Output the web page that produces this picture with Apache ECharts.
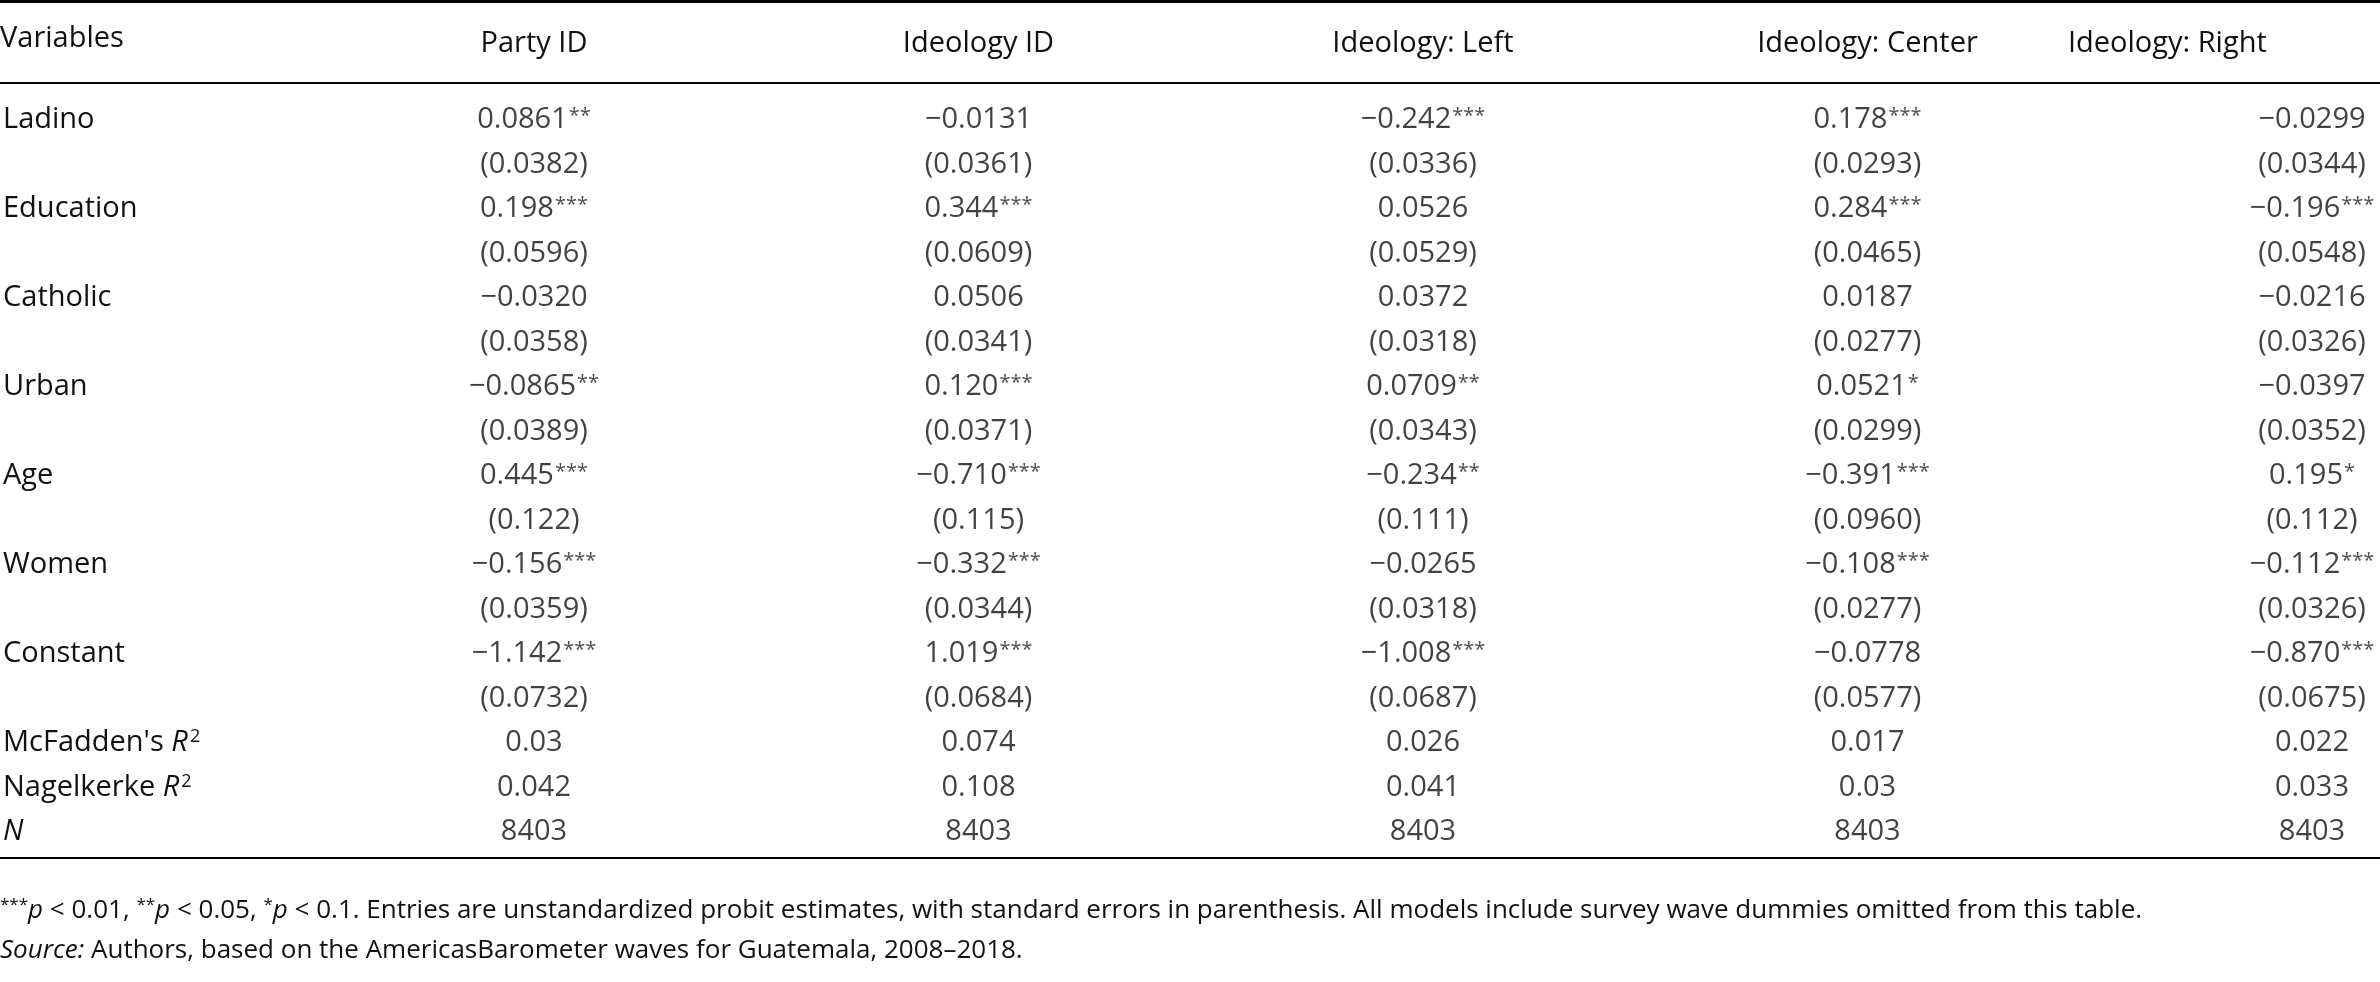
<!DOCTYPE html>
<html><head><meta charset="utf-8">
<script src="https://cdn.jsdelivr.net/npm/echarts@6/dist/echarts.min.js"></script>
<style>html,body{margin:0;padding:0;background:#fff}#c{width:2380px;height:982px}</style>
</head><body><div id="c"></div>
<script>
const columns = ['Party ID','Ideology ID','Ideology: Left','Ideology: Center','Ideology: Right'];
const rowLabels = ['Ladino','','Education','','Catholic','','Urban','','Age','','Women','','Constant','',"McFadden's {i|R}{sup|2}",'Nagelkerke {i|R}{sup|2}','{i|N}'];
const partyID = ['0.0861**','(0.0382)','0.198***','(0.0596)','−0.0320','(0.0358)','−0.0865**','(0.0389)','0.445***','(0.122)','−0.156***','(0.0359)','−1.142***','(0.0732)','0.03','0.042','8403'];
const ideologyID = ['−0.0131','(0.0361)','0.344***','(0.0609)','0.0506','(0.0341)','0.120***','(0.0371)','−0.710***','(0.115)','−0.332***','(0.0344)','1.019***','(0.0684)','0.074','0.108','8403'];
const ideologyLeft = ['−0.242***','(0.0336)','0.0526','(0.0529)','0.0372','(0.0318)','0.0709**','(0.0343)','−0.234**','(0.111)','−0.0265','(0.0318)','−1.008***','(0.0687)','0.026','0.041','8403'];
const ideologyCenter = ['0.178***','(0.0293)','0.284***','(0.0465)','0.0187','(0.0277)','0.0521*','(0.0299)','−0.391***','(0.0960)','−0.108***','(0.0277)','−0.0778','(0.0577)','0.017','0.03','8403'];
const ideologyRight = ['−0.0299','(0.0344)','−0.196***','(0.0548)','−0.0216','(0.0326)','−0.0397','(0.0352)','0.195*','(0.112)','−0.112***','(0.0326)','−0.870***','(0.0675)','0.022','0.033','8403'];
const allCols = [partyID, ideologyID, ideologyLeft, ideologyCenter, ideologyRight];
const FONT = 'Open Sans';
const C = '#111';
const FS = 29;
const data = [];
allCols.forEach((col, ci) => col.forEach((t, ri) => data.push([ci, ri, t])));
const chart = echarts.init(document.getElementById('c'));
chart.setOption({
  animation:false,
  textStyle:{fontFamily:FONT,color:C},
  grid:{left:531,right:68,top:120,bottom:150},
  xAxis:{type:'category',position:'top',boundaryGap:false,data:columns,
    axisLine:{show:false},axisTick:{show:false},splitLine:{show:false},
    axisLabel:{margin:62,fontSize:FS,color:C,fontFamily:FONT,interval:0,alignMaxLabel:'right',showMaxLabel:true,
      formatter:(v,i)=> i===columns.length-1 ? v+'      ' : v}},
  yAxis:{type:'category',inverse:true,boundaryGap:false,data:rowLabels.map((r,i)=>'r'+i),
    axisLine:{show:false},axisTick:{show:false},splitLine:{show:false},
    axisLabel:{margin:531,align:'left',fontSize:FS,color:C,fontFamily:FONT,interval:0,
      formatter:(v,i)=>rowLabels[i],
      rich:{i:{fontStyle:'italic',fontSize:FS,fontFamily:FONT,color:C},sup:{fontSize:18,verticalAlign:'top',padding:[0,0,12,2],fontFamily:FONT,color:C}}}},
  series:[{type:'scatter',symbolSize:0,data:data,
    label:{show:true,position:'inside',color:C,fontFamily:FONT,fontSize:FS,
      formatter:p=>{const t=p.data[2];const m=t.match(/^(.*?)(\**)$/);return m[2]?'{v|'+m[1]+'}{s|'+m[2]+'}':'{v|'+t+'}';},
      rich:{v:{fontSize:FS,fontFamily:FONT,color:C},s:{fontSize:20,fontFamily:FONT,color:'#222',padding:[0,0,8,1]}}}}],
  graphic:[
    {type:'rect',shape:{x:0,y:0,width:2380,height:3},style:{fill:'#000'}},
    {type:'rect',shape:{x:0,y:82,width:2380,height:2},style:{fill:'#000'}},
    {type:'rect',shape:{x:0,y:857,width:2380,height:2},style:{fill:'#000'}},
    {type:'text',left:0,top:24,style:{text:'Variables',font:FS+'px '+FONT,fill:C}},
    {type:'text',left:0,top:897,style:{
      text:'{s|***}{i|p} < 0.01, {s|**}{i|p} < 0.05, {s|*}{i|p} < 0.1. Entries are unstandardized probit estimates, with standard errors in parenthesis. All models include survey wave dummies omitted from this table.',
      font:'26px '+FONT,fill:C,
      rich:{s:{fontSize:17,fontFamily:FONT,fill:C,padding:[0,0,10,0]},i:{fontStyle:'italic',fontSize:26,fontFamily:FONT,fill:C}}}},
    {type:'text',left:0,top:938,style:{
      text:'{i|Source:} Authors, based on the AmericasBarometer waves for Guatemala, 2008–2018.',
      font:'26px '+FONT,fill:C,
      rich:{i:{fontStyle:'italic',fontSize:26,fontFamily:FONT,fill:C}}}}
  ]
});
</script></body></html>
